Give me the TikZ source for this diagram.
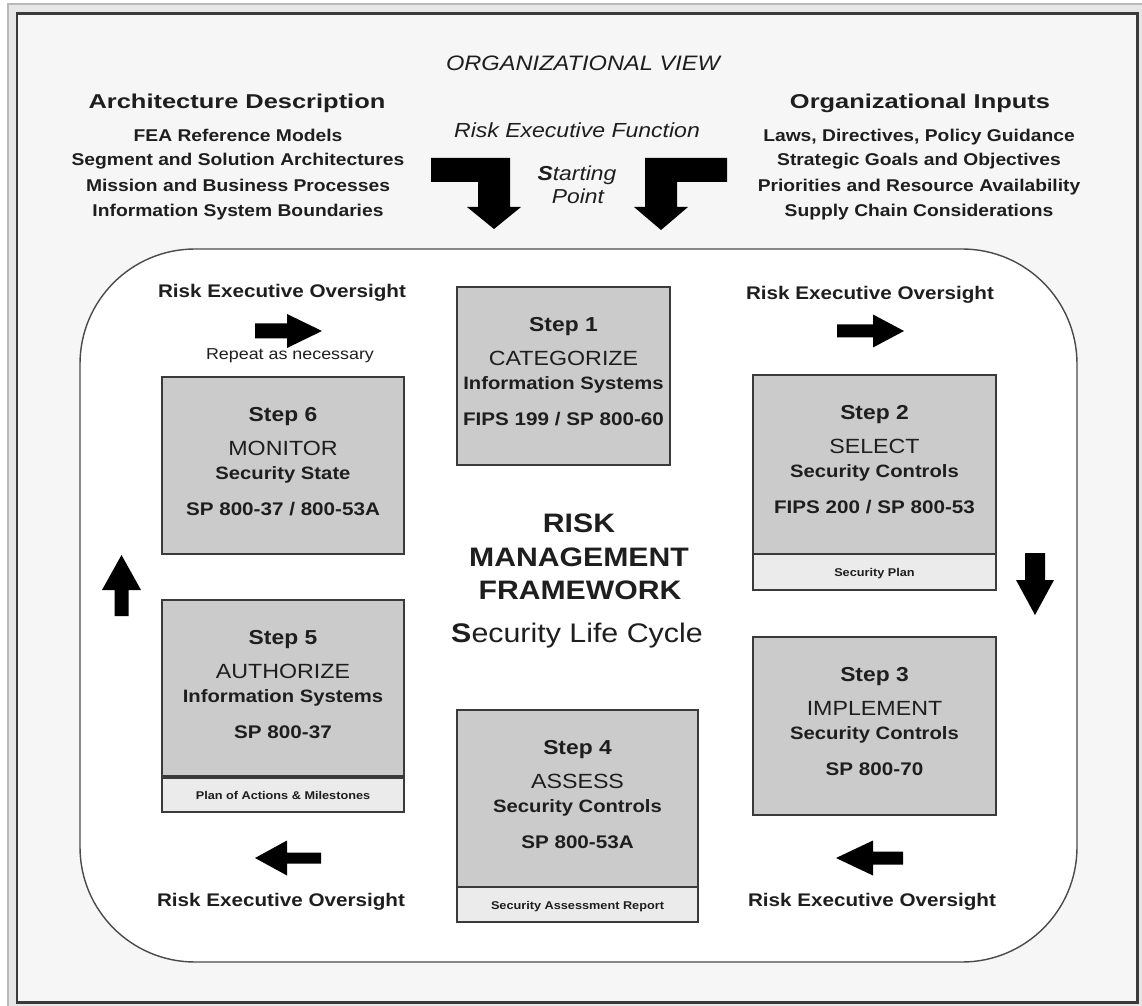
\documentclass[tikz,border=0pt]{standalone}
\usepackage{fontspec}
\setmainfont{Liberation Sans}[FakeStretch=1.13]
\newfontfamily\headfont{Liberation Sans}[FakeStretch=1.27]
\usetikzlibrary{calc}

\definecolor{ink}{HTML}{1E1E1E}
\definecolor{boxgray}{HTML}{CBCBCB}
\definecolor{stripgray}{HTML}{EBEBEB}
\definecolor{pagegray}{HTML}{F6F6F6}
\definecolor{edgegray}{HTML}{E6E6E6}
\definecolor{framedark}{HTML}{3A3A3A}
\definecolor{panelline}{HTML}{4A4A4A}

\tikzset{
  every node/.style={text=ink, inner sep=0pt, outer sep=0pt},
  sz/.style 2 args={minimum width=#1*0.02cm, minimum height=#2*0.02cm},
  stepbox/.style={draw=framedark, line width=1.1pt, fill=boxgray, anchor=north west},
  stripbox/.style={draw=framedark, line width=1.1pt, fill=stripgray, anchor=north west},
  steplbl/.style={anchor=mid, font=\fontsize{11.5}{13}\selectfont\bfseries},
  steptitle/.style={anchor=mid, font=\fontsize{11.7}{13}\selectfont},
  stepsub/.style={anchor=mid, font=\fontsize{10.2}{12}\selectfont\bfseries},
  stepref/.style={anchor=mid, font=\fontsize{10.4}{12}\selectfont\bfseries},
  striptext/.style={anchor=mid, font=\fontsize{6.4}{7}\selectfont\bfseries},
  oversight/.style={anchor=mid, font=\fontsize{10.4}{12}\selectfont\bfseries},
  repeatlbl/.style={anchor=mid, font=\fontsize{9}{10}\selectfont},
  rmf/.style={anchor=mid, font=\fontsize{15.2}{17}\selectfont\bfseries},
  lifecyc/.style={anchor=mid, font=\fontsize{15.3}{17}\selectfont},
  tophead/.style={anchor=mid, font=\headfont\fontsize{11.4}{13}\selectfont\bfseries},
  topitem/.style={anchor=mid, font=\fontsize{9.7}{11}\selectfont\bfseries},
  orgview/.style={anchor=mid, font=\fontsize{11.9}{13}\selectfont\itshape},
  refn/.style={anchor=mid, font=\fontsize{11.6}{13}\selectfont\itshape},
  startpt/.style={anchor=mid, font=\fontsize{11.5}{13}\selectfont\itshape},
  % block arrow pointing along +x: shaft length / shaft half width / head length / head half width
  pics/blockarrow/.style args={#1/#2/#3/#4}{code={
    \fill[black] (0,-#2) -- (#1,-#2) -- (#1,-#4) -- (#1+#3,0) -- (#1,#4) -- (#1,#2) -- (0,#2) -- cycle;
  }}
}

% four text lines of one step box
\newcommand\stepcontent[5]{%
  \node[steplbl]   (#1a) at ($(#1.north)+(0,40)$)  {#2};
  \node[steptitle] (#1b) at ($(#1.north)+(0,74)$)  {#3};
  \node[stepsub]   (#1c) at ($(#1.north)+(0,98)$)  {#4};
  \node[stepref]   (#1d) at ($(#1.north)+(0,134)$) {#5};
}

\begin{document}
\begin{tikzpicture}[x=0.02cm, y=-0.02cm]
\useasboundingbox (0,0) rectangle (1142,1006);

% window edge and page frame
\fill[white] (0,0) rectangle (1142,1006);
\fill[edgegray] (8,4) rectangle (1142,1006);
\draw[gray!55, line width=0.6pt] (8,1006) -- (8,4) -- (1142,4);
\draw[framedark, line width=1.7pt, fill=pagegray] (17,14) rectangle (1137,1002);

% header
\node[orgview] (ov) at (583,66) {ORGANIZATIONAL VIEW};
\node[tophead] (ad) at (237,104) {Architecture Description};
\node[topitem] (ad1) at (238,137) {FEA Reference Models};
\node[topitem] (ad2) at (238,161) {Segment and Solution Architectures};
\node[topitem] (ad3) at (238,187) {Mission and Business Processes};
\node[topitem] (ad4) at (238,212) {Information System Boundaries};
\node[tophead] (oi) at (920,104) {Organizational Inputs};
\node[topitem] (oi1) at (919,137) {Laws, Directives, Policy Guidance};
\node[topitem] (oi2) at (919,161) {Strategic Goals and Objectives};
\node[topitem] (oi3) at (919,187) {Priorities and Resource Availability};
\node[topitem] (oi4) at (919,212) {Supply Chain Considerations};
\node[refn] (ref) at (577,133) {Risk Executive Function};
\node[startpt] (sp1) at (577,176) {\textbf{S}tarting};
\node[startpt] (sp2) at (578,199) {Point};

% entry arrows
\fill[black] (431,158) -- (510,158) -- (510,207) -- (521,207) -- (494,229) -- (467,207)
  -- (478,207) -- (478,182) -- (431,182) -- cycle;
\fill[black] (727,158) -- (645,158) -- (645,207) -- (634,207) -- (661,230) -- (688,207)
  -- (677,207) -- (677,182) -- (727,182) -- cycle;

% life cycle panel
\draw[panelline, line width=0.8pt, fill=white, rounded corners=2.3cm] (80,249) rectangle (1077,962);

% step boxes
\node[stepbox, sz={213}{178}] (s1) at (457,287) {};
\node[stepbox, sz={242}{177}] (s6) at (162,377) {};
\node[stepbox, sz={243}{179}] (s2) at (753,375) {};
\node[stripbox, sz={243}{36}] (s2p) at (753,554) {};
\node[stepbox, sz={242}{177}] (s5) at (162,600) {};
\node[stripbox, sz={242}{35}] (s5p) at (162,777) {};
\draw[framedark, line width=1.9pt] (s5p.north west) -- (s5p.north east);
\node[stepbox, sz={243}{178}] (s3) at (753,637) {};
\node[stepbox, sz={241}{177}] (s4) at (457,710) {};
\node[stripbox, sz={241}{35}] (s4p) at (457,887) {};

\stepcontent{s1}{Step 1}{CATEGORIZE}{Information Systems}{FIPS 199 / SP 800-60}
\stepcontent{s2}{Step 2}{SELECT}{Security Controls}{FIPS 200 / SP 800-53}
\stepcontent{s3}{Step 3}{IMPLEMENT}{Security Controls}{SP 800-70}
\stepcontent{s4}{Step 4}{ASSESS}{Security Controls}{SP 800-53A}
\stepcontent{s5}{Step 5}{AUTHORIZE}{Information Systems}{SP 800-37}
\stepcontent{s6}{Step 6}{MONITOR}{Security State}{SP 800-37 / 800-53A}

\node[striptext] (s2pt) at (s2p.center) {Security Plan};
\node[striptext] (s5pt) at (s5p.center) {Plan of Actions \& Milestones};
\node[striptext] (s4pt) at (s4p.center) {Security Assessment Report};

% centre title
\node[rmf] (r1) at (579,528) {RISK};
\node[rmf] (r2) at (579,562) {MANAGEMENT};
\node[rmf] (r3) at (580,595) {FRAMEWORK};
\node[lifecyc] (lc) at (577,638) {\textbf{S}ecurity Life Cycle};

% oversight labels
\node[oversight] (o1) at (282,293) {Risk Executive Oversight};
\node[repeatlbl] (rep) at (290,355) {Repeat as necessary};
\node[oversight] (o2) at (870,295) {Risk Executive Oversight};
\node[oversight] (o3) at (872,902) {Risk Executive Oversight};
\node[oversight] (o4) at (281,902) {Risk Executive Oversight};

% cycle arrows
\pic at (255,331) {blockarrow=32/7.5/35/17};
\pic at (837,331) {blockarrow=36/6.5/31/16.5};
\pic[rotate=-90] at (1035,553) {blockarrow=27/10/35/19};
\pic[rotate=180] at (903,858) {blockarrow=30/6.5/37/17.5};
\pic[rotate=180] at (321,858) {blockarrow=34/5.5/32/17.5};
\pic[rotate=90] at (121.5,616) {blockarrow=26/7/35/19.5};
\end{tikzpicture}
\end{document}
